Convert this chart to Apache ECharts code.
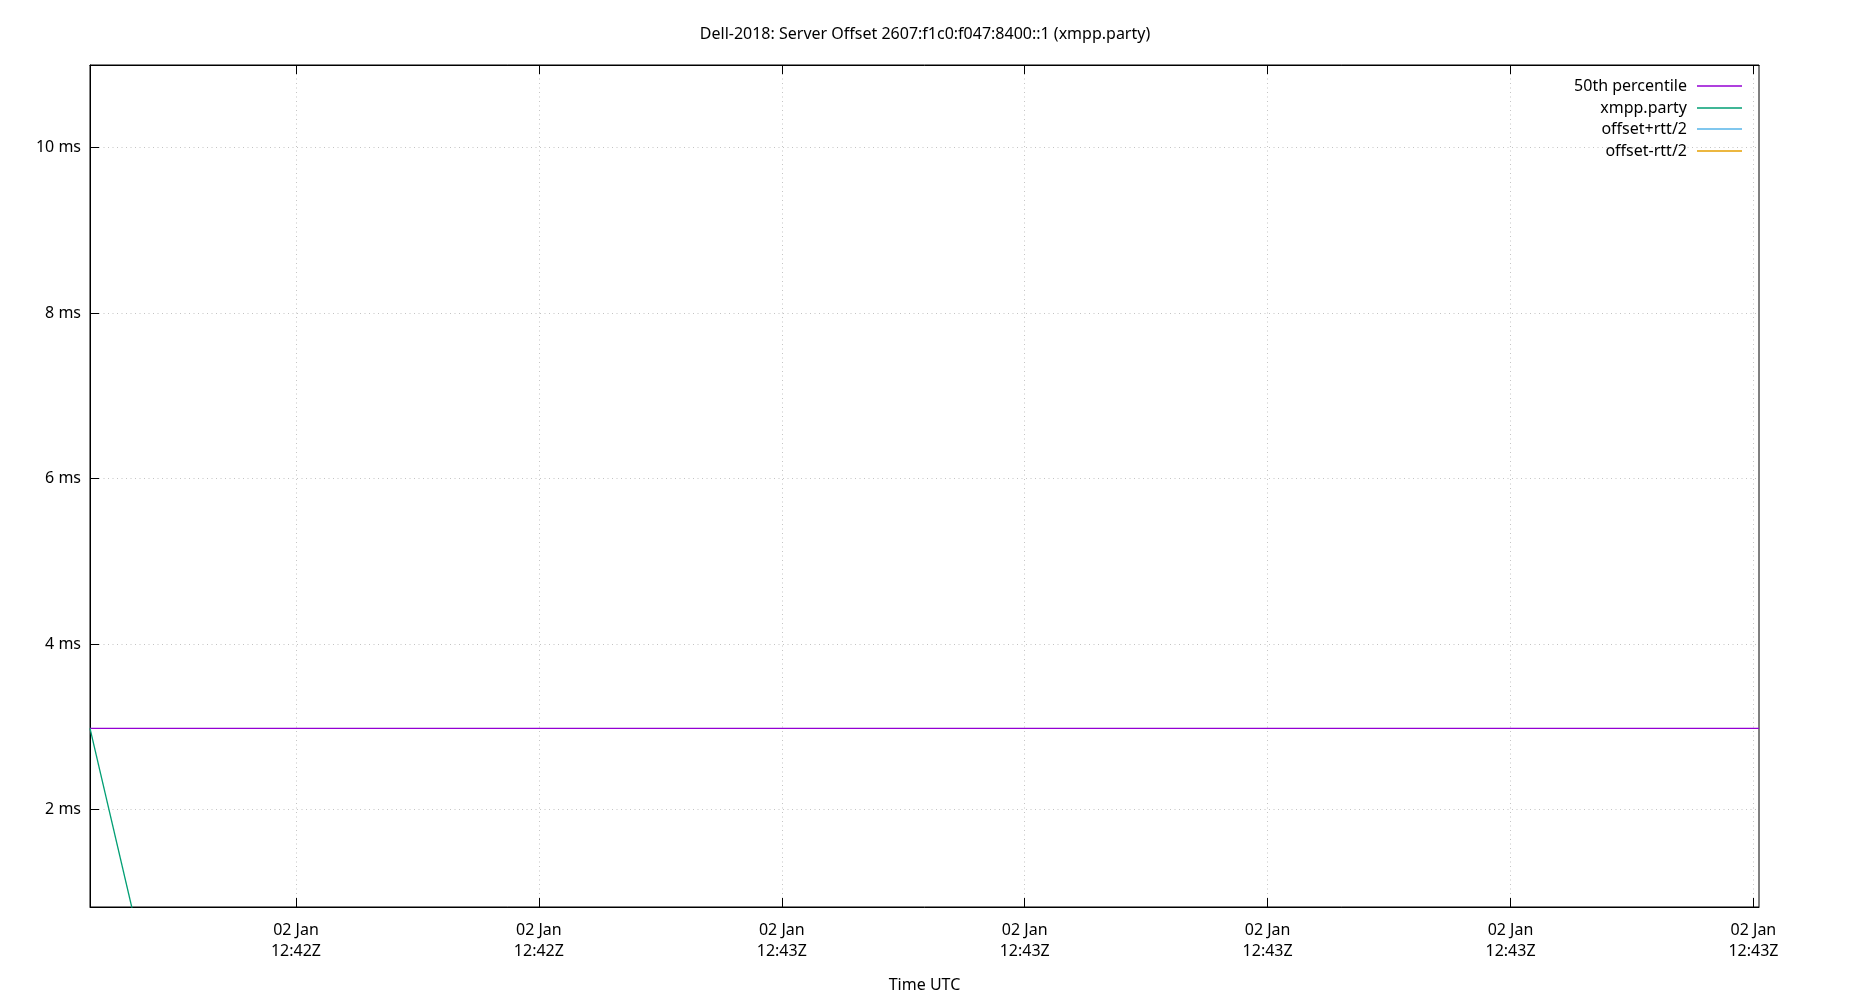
<!DOCTYPE html>
<html>
<head>
<meta charset="utf-8">
<title>Server Offset</title>
<script src="https://cdn.jsdelivr.net/npm/echarts@6/dist/echarts.min.js"></script>
<style>
  html, body { margin: 0; padding: 0; background: #fff; }
  #chart { width: 1850px; height: 1000px; }
</style>
</head>
<body>
<div id="chart"></div>
<script>
// x values are seconds after 02 Jan 12:42:00Z
const xMin = 31.52;
const xMax = 100.23;
const xTicks = [40, 50, 60, 70, 80, 90, 100];
const xTickLabels = ['02 Jan\n12:42Z', '02 Jan\n12:42Z', '02 Jan\n12:43Z', '02 Jan\n12:43Z',
  '02 Jan\n12:43Z', '02 Jan\n12:43Z', '02 Jan\n12:43Z'];

const yMin = 0.82;
const yMax = 11;
const yTicks = [2, 4, 6, 8, 10];

const seriesNames = ['50th percentile', 'xmpp.party', 'offset+rtt/2', 'offset-rtt/2'];
const seriesColors = ['#9400d3', '#009e73', '#56b4e9', '#e69f00'];

// offsets in ms
const p50 = [[31.52, 2.98], [100.23, 2.98]];
const xmpp = [[31.52, 2.98], [100.23, -83.4]];
const plusHalfRtt = [];
const minusHalfRtt = [];

const seriesData = [p50, xmpp, plusHalfRtt, minusHalfRtt];

const font = 'Noto Sans';
const legendTops = [78, 100, 121, 143];

const chart = echarts.init(document.getElementById('chart'));

const option = {
  animation: false,
  backgroundColor: '#fff',
  textStyle: { fontFamily: font },
  title: {
    text: 'Dell-2018: Server Offset 2607:f1c0:f047:8400::1 (xmpp.party)',
    left: 'center',
    top: 21,
    textStyle: { fontFamily: font, fontSize: 16, fontWeight: 'normal', color: '#000' }
  },
  // one legend per row so the text ends line up on the right like gnuplot
  legend: seriesNames.map((name, i) => ({
    data: [name],
    orient: 'vertical',
    right: 108,
    top: legendTops[i],
    align: 'right',
    padding: 0,
    icon: 'rect',
    itemWidth: 45,
    itemHeight: 1.3,
    itemGap: 0,
    selectedMode: false,
    textStyle: { fontFamily: font, fontSize: 16, color: '#000', padding: [0, 5, 0, 0] }
  })),
  grid: {
    left: 90,
    right: 91,
    top: 65,
    bottom: 93,
    show: true,
    borderColor: '#000',
    borderWidth: 1,
    containLabel: false
  },
  xAxis: [
    {
      type: 'value',
      position: 'bottom',
      min: xMin,
      max: xMax,
      name: 'Time UTC',
      nameLocation: 'middle',
      nameGap: 70,
      nameTextStyle: { fontFamily: font, fontSize: 16, color: '#000' },
      axisLine: { show: true, onZero: false, lineStyle: { color: '#000', width: 1 } },
      axisTick: { show: true, inside: true, length: 9, customValues: xTicks,
        lineStyle: { color: '#000', width: 1 } },
      axisLabel: {
        customValues: xTicks,
        margin: 13,
        fontFamily: font,
        fontSize: 16,
        lineHeight: 21,
        color: '#000',
        formatter: (v) => xTickLabels[xTicks.indexOf(v)] || ''
      },
      splitLine: { show: true, lineStyle: { color: '#c4c4c4', width: 1, type: [1, 3.5] } }
    },
    {
      type: 'value',
      position: 'top',
      min: xMin,
      max: xMax,
      axisLine: { show: true, onZero: false, lineStyle: { color: '#000', width: 1 } },
      axisTick: { show: true, inside: true, length: 9, customValues: xTicks,
        lineStyle: { color: '#000', width: 1 } },
      axisLabel: { show: false },
      splitLine: { show: false }
    }
  ],
  yAxis: {
    type: 'value',
    min: yMin,
    max: yMax,
    axisLine: { show: true, onZero: false, lineStyle: { color: '#000', width: 1 } },
    axisTick: { show: true, inside: true, length: 9, customValues: yTicks,
      lineStyle: { color: '#000', width: 1 } },
    axisLabel: {
      customValues: yTicks,
      margin: 9,
      fontFamily: font,
      fontSize: 16,
      color: '#000',
      formatter: (v) => v + ' ms'
    },
    splitLine: { show: true, lineStyle: { color: '#c4c4c4', width: 1, type: [1, 3.5] } }
  },
  series: seriesNames.map((name, i) => ({
    name: name,
    type: 'line',
    data: seriesData[i],
    symbol: 'none',
    clip: true,
    color: seriesColors[i],
    lineStyle: { color: seriesColors[i], width: 1.3 }
  }))
};

chart.setOption(option);
</script>
</body>
</html>
